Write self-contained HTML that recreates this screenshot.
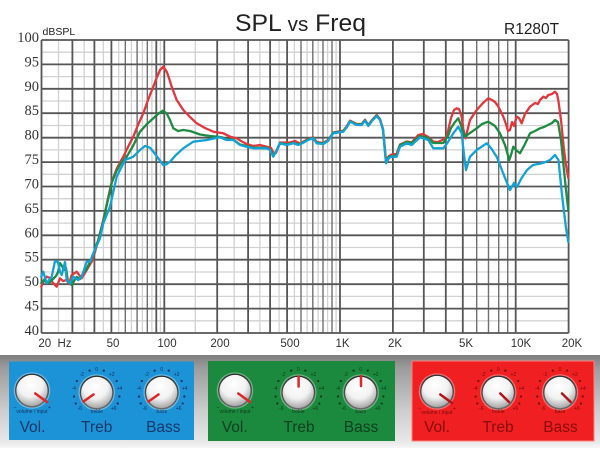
<!DOCTYPE html>
<html><head><meta charset="utf-8"><style>
html,body{margin:0;padding:0;background:#fff;}
svg{display:block;}
</style></head><body>
<svg width="600" height="458" viewBox="0 0 600 458" xmlns="http://www.w3.org/2000/svg" font-family="Liberation Sans, Arial, sans-serif">
<defs>
<linearGradient id="band" x1="0" y1="0" x2="0" y2="1">
<stop offset="0" stop-color="#7f7f7f"/><stop offset="0.15" stop-color="#9d9d9d"/><stop offset="0.6" stop-color="#cdcdcd"/><stop offset="0.93" stop-color="#e8e8e8"/><stop offset="1" stop-color="#f6f6f6"/>
</linearGradient>
<radialGradient id="face" cx="0.45" cy="0.3" r="0.8">
<stop offset="0" stop-color="#ffffff"/><stop offset="0.5" stop-color="#f2f2f2"/><stop offset="1" stop-color="#8e8e8e"/>
</radialGradient>
<linearGradient id="rim" x1="0" y1="0" x2="0" y2="1">
<stop offset="0" stop-color="#2e2e2e"/><stop offset="1" stop-color="#6a6a6a"/>
</linearGradient>
<g id="knob">
<circle r="18.3" fill="#ffffff" opacity="0.35"/>
<circle r="17" fill="url(#rim)"/>
<circle r="15.6" fill="url(#face)"/>
</g>
</defs>

<rect width="600" height="458" fill="#fff"/>

<!-- grid light -->
<g stroke="#d2d2d2" stroke-width="1.3">
<path d="M58.5 40V333M84.2 40V333M103.4 40V333M118.7 40V333M131.4 40V333M142.4 40V333M151.9 40V333M160.4 40V333M195.3 40V333M234.2 40V333M259.9 40V333M279.1 40V333M294.4 40V333M307.1 40V333M318.1 40V333M327.6 40V333M336.1 40V333"/>
<path d="M41.5 52.2H568.6M41.5 76.6H568.6M41.5 101H568.6M41.5 125.5H568.6M41.5 149.9H568.6M41.5 174.3H568.6M41.5 198.7H568.6M41.5 223.1H568.6M41.5 247.5H568.6M41.5 272H568.6M41.5 296.4H568.6M41.5 320.8H568.6"/>
</g>
<g stroke="#707070" stroke-width="1.4">
<path d="M125.3 40V333M137.1 40V333M147.3 40V333M301 40V333M312.8 40V333M323 40V333M332 40V333M476.7 40V333M488.5 40V333M498.7 40V333M507.7 40V333"/>
</g>
<g stroke="#565656" stroke-width="1.8">
<path d="M41.5 40V333M72.4 40V333M94.4 40V333M111.4 40V333M156.3 40V333M164.3 40V333M217.2 40V333M248.1 40V333M270.1 40V333M287.1 40V333M340 40V333M392.9 40V333M423.8 40V333M445.8 40V333M462.8 40V333M515.7 40V333M568.6 40V333"/>
<path d="M41.5 40H568.6M41.5 64.4H568.6M41.5 88.8H568.6M41.5 113.2H568.6M41.5 137.7H568.6M41.5 162.1H568.6M41.5 186.5H568.6M41.5 210.9H568.6M41.5 235.3H568.6M41.5 259.7H568.6M41.5 284.2H568.6M41.5 308.6H568.6M41.5 333H568.6"/>
</g>

<!-- curves -->
<g fill="none" stroke-width="2.3" stroke-linejoin="round" stroke-linecap="round">
<polyline stroke="#e0383c" points="41.3,286.7 44,280 46.7,276.7 50,278 53,283 56.7,286.7 60,278.3 63,281 66.7,280 69,284 71.7,275 76.7,271.7 81.7,278.3 86.7,270 91.7,261.7 95,252 98.3,240 103.3,220 107,203 111.7,182 117,168 123.3,156.7 128,147 133.3,136.7 138,125 143.3,113.3 148,100 153.3,86.7 157,77 160,70 163.3,66.7 166.7,71.7 169,78 171.7,86.7 176.7,100 183.3,110 190,117 196.7,123.3 205,128 213.3,131.7 223.3,133.3 230,136.7 236.7,138.3 241,141 246.7,144 253,146 260,145 266.7,146.7 271,148 274,154 276,153 280,142.5 290,142.5 295,141 300,143.5 308,139 313.3,137.3 316.7,142 323.3,143 328,140 333.3,132.5 343.3,130.7 347,126 350,120.7 356.7,124 361.7,124 365,119.7 368.3,125 372,120 376.7,115 380,119 383,129 386,160 389,156 391.7,154.5 396.7,153.5 400,144.5 406.7,141.5 411.7,142.5 418.3,135 423,134 428.3,137 433.3,141.7 438,142 443.3,139.5 446.7,136.7 451,118 454,110 456.7,108.3 459,109 461.5,116 463.5,130 465.7,138.3 468,128 470,120 476.7,110 483,103 488.3,98.3 492,100 495,102 498,106 500,110 503,116 506,124 508,131 510,130 512,122 514,126 516.7,116.7 519,118 521.7,123.3 525,114 530,106.7 535,103 538,104 540,100 543.3,96.7 546,98 548.3,95 552,94 555,91.7 557,94 558.3,100 561,120 564,150 566,165 568.3,178"/>
<polyline stroke="#1f8a44" points="41.3,283 44,280 46.7,283 50,282 53,279 56,276 58,272 60,263 62,266 64,270 66,268 68,282 71.7,285 74,281 76.7,277 80,279 83.3,273 86,270 88,266 91,260 93.3,254.6 96,246 98.3,240 103.3,221 107,204 111.7,183 116,172 121,163 126.7,156.7 133,146 140,131.7 147,124 153.3,118.3 158,114 162.7,110.7 166.7,113.5 170,120 173.3,128.3 178,131 183.3,130 190,131 200,134.5 210,136 216.7,136.7 222,137.3 226.7,139.5 233.3,139.5 240,144.5 246.7,146 253.3,147.8 266.7,147.8 270,149.5 273.3,156 277,149.5 280,142.8 286.7,144.5 293.3,142.8 298.3,144.5 303,142.5 308,139.5 313.3,137.8 316.7,142.8 323.3,143.5 328,140.5 333.3,132.8 343.3,131.2 347,126.5 350,121.2 356.7,124.5 361.7,124.5 365,120.2 368.3,125.5 372,120.5 376.7,115.5 380,119.5 383,129.5 386,162.5 389,157 391.7,156 396.7,155.5 400,145 406.7,142 411.7,143 420,136 428.3,138 433.3,143 443.3,143 448,136 451,128 455,122 458.3,118.3 461,125 463,132 465,136.7 470,133 476.7,128.3 482,124 488.3,121.7 495,126 500,133.3 505,145 509.3,160 511,155 513.3,146.7 516,150 520,153.3 525,144 530,133.3 535,131 540,128.3 544,127 548,125 552,123 555,120 558,122 561,140 564,170 566,190 568.3,210"/>
<polyline stroke="#14a2d4" points="41.3,276.7 43.3,271.7 46.7,283.3 51.7,276.7 55,261 58,262 60,272 61.7,275 65,262 66.7,280 70,283.3 73.3,276.7 78.3,280 81.7,276.7 86.7,261.7 90,261.7 93.3,253.3 100,238.3 103.3,223.3 110,206.7 116.7,176.7 125,160 133.3,156.7 140,150 145,146 150,147.7 153.3,151.7 158,158 163.3,165 166,164.5 170,161.7 176,155 183.3,148.3 193.3,141.7 206.7,140 220,137.3 226.7,140 233.3,140 240,145 246.7,146.7 253.3,148.3 266.7,148.3 270,150 273.3,156.7 277,150 280,143.3 286.7,145 293.3,143.3 298.3,145 303,143 308,140 313.3,138.3 316.7,143.3 323.3,144 328,141 333.3,133.3 343.3,131.7 347,127 350,121.7 356.7,125 361.7,125 365,120.7 368.3,126 372,121 376.7,116 380,120 383,130 386,163.3 389,158 391.7,156.7 396.7,156.7 400,146.7 406.7,143.3 411.7,145 420,137.3 428.3,140 433.3,148.3 443.3,148.3 448,142 453.3,133.3 458.3,126.7 461.7,133.3 464,155 466,170 470,156.7 476.7,150 486.7,143.3 491,148 496.7,156.7 500,165 505,178 510,190 514,183 517,187 521,179 527,170 533,165 543,163 550,160 555,155 558.5,160 562,195 566,228 568.3,242"/>
</g>

<!-- axis labels -->
<g font-family="Liberation Serif, serif" font-size="14.5" fill="#333" text-anchor="end">
<text x="39" y="42">100</text><text x="39" y="66.4">95</text><text x="39" y="90.8">90</text><text x="39" y="115.2">85</text><text x="39" y="139.7">80</text><text x="39" y="164.1">75</text><text x="39" y="188.5">70</text><text x="39" y="212.9">65</text><text x="39" y="237.3">60</text><text x="39" y="261.7">55</text><text x="39" y="286.2">50</text><text x="39" y="310.6">45</text><text x="39" y="335">40</text>
</g>
<text x="42.5" y="35" font-size="10.5" fill="#222">dBSPL</text>
<text x="235" y="31" font-size="24" fill="#222" textLength="131" lengthAdjust="spacingAndGlyphs">SPL <tspan font-size="20">vs</tspan> Freq</text>
<text x="504" y="34" font-size="15.5" fill="#222">R1280T</text>
<g font-size="11.5" fill="#333" text-anchor="middle">
<text x="55" y="347" xml:space="preserve">20  Hz</text>
<text x="113" y="347">50</text><text x="167" y="347">100</text><text x="220" y="347">200</text><text x="290" y="347">500</text><text x="342.5" y="347">1K</text><text x="395" y="347">2K</text><text x="466" y="347">5K</text><text x="521" y="347">10K</text><text x="572" y="347">20K</text>
</g>

<!-- bottom band -->
<rect x="0" y="355" width="600" height="93" fill="url(#band)"/>
<rect x="9" y="361.5" width="185" height="78.5" fill="#1c93d6"/>
<rect x="208" y="361" width="187" height="80" fill="#1c8a3e"/>
<rect x="412" y="361" width="182" height="80" fill="#f01f22" stroke="#ff8080" stroke-width="1"/>

<!-- BLUE panel -->
<g>
<use href="#knob" x="32" y="390.5"/>
<line x1="35.3" y1="393.5" x2="47" y2="402" stroke="#e0262a" stroke-width="2.5" stroke-linecap="round"/>
<g font-size="5" fill="#15305e" text-anchor="middle"><text x="15" y="409">–</text><text x="49.5" y="409">+</text><text x="32" y="413">volume / input</text></g>
<use href="#knob" x="96.7" y="392.5"/>
<line x1="93.5" y1="394.5" x2="83.5" y2="401.5" stroke="#e0262a" stroke-width="2.5" stroke-linecap="round"/>
<use href="#knob" x="161.7" y="392.5"/>
<line x1="158.5" y1="394.5" x2="148.5" y2="401.5" stroke="#e0262a" stroke-width="2.5" stroke-linecap="round"/>
<g fill="#15305e">
<g transform="translate(96.7 392.5)"><circle cx="-7.1" cy="-21.9" r="1.1"/><circle cx="7.1" cy="-21.9" r="1.1"/><circle cx="-19.9" cy="-11.5" r="1.1"/><circle cx="19.9" cy="-11.5" r="1.1"/><circle cx="-22.7" cy="4" r="1.1"/><circle cx="22.7" cy="4" r="1.1"/><circle cx="-21" cy="11" r="1.1"/><circle cx="21" cy="11" r="1.1"/>
<g font-size="5" text-anchor="middle"><text x="0" y="-21.5">0</text><text x="-15" y="-16.5">-2</text><text x="15" y="-16.5">+2</text><text x="-23" y="-2.5">-4</text><text x="23" y="-2.5">+4</text><text x="-17" y="17.5">-6</text><text x="17" y="17.5">+6</text><text x="0" y="20.5">treble</text></g></g>
<g transform="translate(161.7 392.5)"><circle cx="-7.1" cy="-21.9" r="1.1"/><circle cx="7.1" cy="-21.9" r="1.1"/><circle cx="-19.9" cy="-11.5" r="1.1"/><circle cx="19.9" cy="-11.5" r="1.1"/><circle cx="-22.7" cy="4" r="1.1"/><circle cx="22.7" cy="4" r="1.1"/><circle cx="-21" cy="11" r="1.1"/><circle cx="21" cy="11" r="1.1"/>
<g font-size="5" text-anchor="middle"><text x="0" y="-21.5">0</text><text x="-15" y="-16.5">-2</text><text x="15" y="-16.5">+2</text><text x="-23" y="-2.5">-4</text><text x="23" y="-2.5">+4</text><text x="-17" y="17.5">-6</text><text x="17" y="17.5">+6</text><text x="0" y="20.5">bass</text></g></g>
</g>
<g font-size="15.5" fill="#16386a" text-anchor="middle"><text x="32.5" y="432">Vol.</text><text x="96.7" y="432">Treb</text><text x="163.3" y="432">Bass</text></g>
</g>

<!-- GREEN panel -->
<g>
<use href="#knob" x="235" y="390.5"/>
<line x1="238.3" y1="393.5" x2="250" y2="402" stroke="#e0262a" stroke-width="2.5" stroke-linecap="round"/>
<g font-size="5" fill="#0c3a18" text-anchor="middle"><text x="218" y="409">–</text><text x="252.5" y="409">+</text><text x="235" y="413">volume / input</text></g>
<use href="#knob" x="298.3" y="392.5"/>
<line x1="298.6" y1="386.5" x2="298.6" y2="376.5" stroke="#e0262a" stroke-width="2.5" stroke-linecap="round"/>
<use href="#knob" x="360.7" y="392.5"/>
<line x1="361" y1="386" x2="361" y2="376" stroke="#e0262a" stroke-width="2.5" stroke-linecap="round"/>
<g fill="#0c3a18">
<g transform="translate(298.3 392.5)"><circle cx="-7.1" cy="-21.9" r="1.1"/><circle cx="7.1" cy="-21.9" r="1.1"/><circle cx="-19.9" cy="-11.5" r="1.1"/><circle cx="19.9" cy="-11.5" r="1.1"/><circle cx="-22.7" cy="4" r="1.1"/><circle cx="22.7" cy="4" r="1.1"/><circle cx="-21" cy="11" r="1.1"/><circle cx="21" cy="11" r="1.1"/>
<g font-size="5" text-anchor="middle"><text x="0" y="-21.5">0</text><text x="-15" y="-16.5">-2</text><text x="15" y="-16.5">+2</text><text x="-23" y="-2.5">-4</text><text x="23" y="-2.5">+4</text><text x="-17" y="17.5">-6</text><text x="17" y="17.5">+6</text><text x="0" y="20.5">treble</text></g></g>
<g transform="translate(360.7 392.5)"><circle cx="-7.1" cy="-21.9" r="1.1"/><circle cx="7.1" cy="-21.9" r="1.1"/><circle cx="-19.9" cy="-11.5" r="1.1"/><circle cx="19.9" cy="-11.5" r="1.1"/><circle cx="-22.7" cy="4" r="1.1"/><circle cx="22.7" cy="4" r="1.1"/><circle cx="-21" cy="11" r="1.1"/><circle cx="21" cy="11" r="1.1"/>
<g font-size="5" text-anchor="middle"><text x="0" y="-21.5">0</text><text x="-15" y="-16.5">-2</text><text x="15" y="-16.5">+2</text><text x="-23" y="-2.5">-4</text><text x="23" y="-2.5">+4</text><text x="-17" y="17.5">-6</text><text x="17" y="17.5">+6</text><text x="0" y="20.5">bass</text></g></g>
</g>
<g font-size="15.5" fill="#0d4220" text-anchor="middle"><text x="234.7" y="432">Vol.</text><text x="299" y="432">Treb</text><text x="361" y="432">Bass</text></g>
</g>

<!-- RED panel -->
<g>
<use href="#knob" x="437" y="391.5"/>
<line x1="440.3" y1="394.5" x2="452" y2="403" stroke="#b01418" stroke-width="2.5" stroke-linecap="round"/>
<g font-size="5" fill="#7a0a0a" text-anchor="middle"><text x="420" y="410">–</text><text x="454.5" y="410">+</text><text x="437" y="414">volume / input</text></g>
<use href="#knob" x="498.3" y="392.5"/>
<line x1="500.3" y1="393.5" x2="509" y2="402" stroke="#b01418" stroke-width="2.5" stroke-linecap="round"/>
<use href="#knob" x="560" y="392.5"/>
<line x1="562" y1="393.5" x2="570.7" y2="402" stroke="#b01418" stroke-width="2.5" stroke-linecap="round"/>
<g fill="#7a0a0a">
<g transform="translate(498.3 392.5)"><circle cx="-7.1" cy="-21.9" r="1.1"/><circle cx="7.1" cy="-21.9" r="1.1"/><circle cx="-19.9" cy="-11.5" r="1.1"/><circle cx="19.9" cy="-11.5" r="1.1"/><circle cx="-22.7" cy="4" r="1.1"/><circle cx="22.7" cy="4" r="1.1"/><circle cx="-21" cy="11" r="1.1"/><circle cx="21" cy="11" r="1.1"/>
<g font-size="5" text-anchor="middle"><text x="0" y="-21.5">0</text><text x="-15" y="-16.5">-2</text><text x="15" y="-16.5">+2</text><text x="-23" y="-2.5">-4</text><text x="23" y="-2.5">+4</text><text x="-17" y="17.5">-6</text><text x="17" y="17.5">+6</text><text x="0" y="20.5">treble</text></g></g>
<g transform="translate(560 392.5)"><circle cx="-7.1" cy="-21.9" r="1.1"/><circle cx="7.1" cy="-21.9" r="1.1"/><circle cx="-19.9" cy="-11.5" r="1.1"/><circle cx="19.9" cy="-11.5" r="1.1"/><circle cx="-22.7" cy="4" r="1.1"/><circle cx="22.7" cy="4" r="1.1"/><circle cx="-21" cy="11" r="1.1"/><circle cx="21" cy="11" r="1.1"/>
<g font-size="5" text-anchor="middle"><text x="0" y="-21.5">0</text><text x="-15" y="-16.5">-2</text><text x="15" y="-16.5">+2</text><text x="-23" y="-2.5">-4</text><text x="23" y="-2.5">+4</text><text x="-17" y="17.5">-6</text><text x="17" y="17.5">+6</text><text x="0" y="20.5">bass</text></g></g>
</g>
<g font-size="15.5" fill="#8a0c0c" text-anchor="middle"><text x="437" y="432">Vol.</text><text x="498" y="432">Treb</text><text x="560.5" y="432">Bass</text></g>
</g>
</svg>
</body></html>
